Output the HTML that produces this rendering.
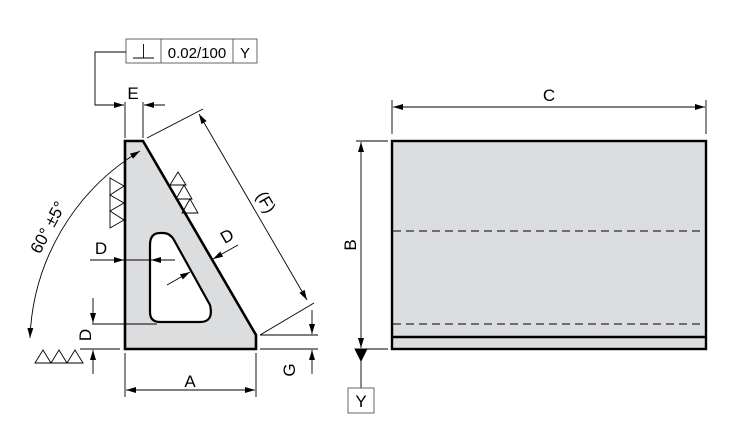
<!DOCTYPE html>
<html><head><meta charset="utf-8"><style>html,body{margin:0;padding:0;background:#fff}svg{display:block}text{font-family:"Liberation Sans",sans-serif;fill:#000}</style></head><body>
<svg width="735" height="429" viewBox="0 0 735 429" xmlns="http://www.w3.org/2000/svg">
<defs>
<marker id="a" viewBox="0 0 10 6" refX="10" refY="3" markerWidth="10" markerHeight="6" markerUnits="userSpaceOnUse" orient="auto-start-reverse"><path d="M0,0L10,3L0,6z" fill="#000"/></marker>
</defs>
<g fill="none" stroke="#000" stroke-width="0.9">
<path d="M125,141 L143,141 L256,335 L256,349 L125,349 Z" fill="#dcdddf" stroke-width="2.6"/>
<path d="M150,245 Q150,233 160,233 L163,233 Q170,233 174,240 L210,305 Q214,322 200,322 L160,322 Q150,322 150,312 Z" fill="#fff" stroke-width="2.2"/>
<rect x="126" y="39" width="131" height="24" stroke="#555"/>
<line x1="161" y1="39" x2="161" y2="63" stroke="#555"/>
<line x1="233" y1="39" x2="233" y2="63" stroke="#555"/>
<line x1="133" y1="58" x2="154" y2="58"/><line x1="143.5" y1="44" x2="143.5" y2="58"/>
<path d="M126,52 L95,52 L95,105 L124,105" marker-end="url(#a)"/>
<line x1="125" y1="102" x2="125" y2="138"/><line x1="143" y1="102" x2="143" y2="138"/>
<line x1="165" y1="105" x2="144" y2="105" marker-end="url(#a)"/>
<line x1="147" y1="138" x2="203" y2="109"/><line x1="260" y1="335" x2="314" y2="303"/>
<line x1="199" y1="114" x2="307" y2="300" marker-start="url(#a)" marker-end="url(#a)"/>
<line x1="260" y1="335" x2="318" y2="335"/><line x1="260" y1="349" x2="318" y2="349"/>
<line x1="312" y1="310" x2="312" y2="334" marker-end="url(#a)"/>
<line x1="312" y1="374" x2="312" y2="350" marker-end="url(#a)"/>
<line x1="125" y1="353" x2="125" y2="397"/><line x1="256" y1="353" x2="256" y2="397"/>
<line x1="126" y1="390" x2="255" y2="390" marker-start="url(#a)" marker-end="url(#a)"/>
<line x1="90" y1="260" x2="124" y2="260" marker-end="url(#a)"/>
<line x1="175" y1="260" x2="151" y2="260" marker-end="url(#a)"/>
<line x1="124" y1="260" x2="151" y2="260"/>
<line x1="167" y1="285" x2="190" y2="272" marker-end="url(#a)"/>
<line x1="238" y1="245" x2="213" y2="259" marker-end="url(#a)"/>
<line x1="92" y1="324" x2="157" y2="324"/><line x1="80" y1="349" x2="120" y2="349"/>
<line x1="93" y1="298" x2="93" y2="323" marker-end="url(#a)"/>
<line x1="93" y1="374" x2="93" y2="350" marker-end="url(#a)"/>
<path d="M30,338 A228,228 0 0 1 140,151" marker-start="url(#a)" marker-end="url(#a)"/>
<path d="M110,178 L124,186 L110,195 L124,203 L110,211 L124,220 L110,228 Z"/>
<path d="M35,363 L43,350 L51,363 L59,350 L67,363 L75,350 L83,363 Z"/>
<path d="M178,172 L170,185 L186,185 Z M184,185 L176,199 L192,199 Z M190,199 L182,213 L198,213 Z"/>
<rect x="392" y="141" width="314" height="208" fill="#dcdddf" stroke-width="2.4"/>
<line x1="392" y1="337" x2="706" y2="337" stroke-width="2.4"/>
<line x1="393" y1="231" x2="705" y2="231" stroke-dasharray="8,5"/>
<line x1="393" y1="324" x2="705" y2="324" stroke-dasharray="8,5"/>
<line x1="392" y1="100" x2="392" y2="134"/><line x1="706" y1="100" x2="706" y2="134"/>
<line x1="393" y1="107" x2="705" y2="107" marker-start="url(#a)" marker-end="url(#a)"/>
<line x1="356" y1="141" x2="388" y2="141"/><line x1="356" y1="349" x2="388" y2="349"/>
<line x1="361" y1="142" x2="361" y2="348" marker-start="url(#a)" marker-end="url(#a)"/>
<path d="M355,349 L367,349 L361,361 Z" fill="#000"/>
<line x1="361" y1="361" x2="361" y2="388"/>
<rect x="348" y="388" width="26" height="25" stroke="#555"/>
</g>
<text x="197" y="58" font-size="15" text-anchor="middle">0.02/100</text>
<text x="245" y="58" font-size="15" text-anchor="middle">Y</text>
<text x="133" y="99" font-size="17" text-anchor="middle">E</text>
<text x="101" y="254" font-size="17" text-anchor="middle">D</text>
<text x="190" y="387" font-size="17" text-anchor="middle">A</text>
<text x="549" y="101" font-size="17" text-anchor="middle">C</text>
<text x="361" y="407" font-size="17" text-anchor="middle">Y</text>
<text font-size="17" text-anchor="middle" transform="translate(356,245) rotate(-90)">B</text>
<text font-size="17" text-anchor="middle" transform="translate(91,335) rotate(-90)">D</text>
<text font-size="17" text-anchor="middle" transform="translate(295,370) rotate(-90)">G</text>
<text font-size="17" text-anchor="middle" transform="translate(230,241) rotate(-30)">D</text>
<text font-size="17" text-anchor="middle" transform="translate(261,205) rotate(60)">(F)</text>
<text font-size="17" text-anchor="middle" transform="translate(53,230) rotate(-62)">60° ±5°</text>
</svg>
</body></html>
